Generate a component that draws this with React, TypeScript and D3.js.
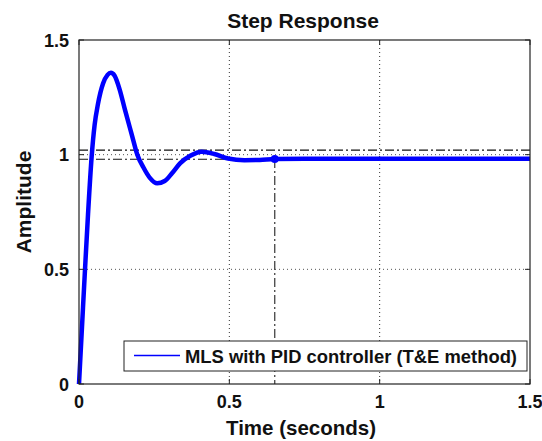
import React from "react";
import * as d3 from "d3";

const time = [0, 0.01, 0.02, 0.03, 0.042, 0.052, 0.063, 0.08, 0.095, 0.106, 0.118, 0.135, 0.153, 0.175, 0.194, 0.214, 0.235, 0.26, 0.285, 0.31, 0.336, 0.37, 0.408, 0.45, 0.496, 0.55, 0.601, 0.651, 0.75, 0.9, 1.1, 1.3, 1.5];
const amplitude = [0, 0.25, 0.5, 0.74, 0.99, 1.13, 1.22, 1.31, 1.348, 1.357, 1.345, 1.285, 1.195, 1.09, 1.0, 0.945, 0.9, 0.875, 0.885, 0.92, 0.962, 0.995, 1.013, 1.003, 0.983, 0.976, 0.977, 0.981, 0.982, 0.982, 0.982, 0.982, 0.982];
const xTicks = [0, 0.5, 1, 1.5];
const yTicks = [0, 0.5, 1, 1.5];
const xGrid = [0.5, 1];
const yGrid = [0.5, 1];
const settleBand = [1.02, 0.98];
const settlingTime = 0.651;
const settlingValue = 0.981;
const title = "Step Response";
const xLabel = "Time (seconds)";
const yLabel = "Amplitude";
const legendLabel = "MLS with PID controller (T&E method)";

const W = 542, H = 441;
const L = 79, R = 530, T = 40, B = 384;

export default function App() {
  const x = d3.scaleLinear().domain([0, 1.5]).range([L, R]);
  const y = d3.scaleLinear().domain([0, 1.5]).range([B, T]);
  const pts: [number, number][] = time.map((t, i) => [t, amplitude[i]]);
  const line = d3.line<[number, number]>().x(d => x(d[0])).y(d => y(d[1])).curve(d3.curveMonotoneX);
  const font = "'Liberation Sans', Arial, sans-serif";
  const tickLen = 5;
  return (
    <svg width={W} height={H} style={{ position: "absolute", left: 0, top: 0, background: "#fff" }} fontFamily={font}>
      <rect x={0} y={0} width={W} height={H} fill="#fff" />
      {xGrid.map(v => (
        <line key={"xg" + v} x1={x(v)} x2={x(v)} y1={T} y2={B} stroke="#333" strokeWidth={1} strokeDasharray="1,3" />
      ))}
      {yGrid.map(v => (
        <line key={"yg" + v} x1={L} x2={R} y1={y(v)} y2={y(v)} stroke="#555" strokeWidth={1} strokeDasharray="1,3" />
      ))}
      {settleBand.map(v => (
        <line key={"sb" + v} x1={L} x2={R} y1={y(v)} y2={y(v)} stroke="#111" strokeWidth={1.2} strokeDasharray="9,3,2,3" />
      ))}
      <line x1={x(settlingTime)} x2={x(settlingTime)} y1={y(settlingValue)} y2={B} stroke="#444" strokeWidth={1.3} strokeDasharray="9,3,2,3" />
      <path d={line(pts) || ""} fill="none" stroke="#0000ff" strokeWidth={4.5} strokeLinejoin="round" />
      <circle cx={x(settlingTime)} cy={y(settlingValue)} r={4} fill="#0000ff" />
      <rect x={L} y={T} width={R - L} height={B - T} fill="none" stroke="#222" strokeWidth={1.2} />
      {xTicks.map(v => (
        <g key={"xt" + v}>
          <line x1={x(v)} x2={x(v)} y1={B} y2={B - tickLen} stroke="#222" />
          <line x1={x(v)} x2={x(v)} y1={T} y2={T + tickLen} stroke="#222" />
          <text x={x(v)} y={B + 24} textAnchor="middle" fontSize={18} fontWeight="bold" fill="#111">{String(v)}</text>
        </g>
      ))}
      {yTicks.map(v => (
        <g key={"yt" + v}>
          <line x1={L} x2={L + tickLen} y1={y(v)} y2={y(v)} stroke="#222" />
          <line x1={R} x2={R - tickLen} y1={y(v)} y2={y(v)} stroke="#222" />
          <text x={L - 10} y={y(v) + 6.5} textAnchor="end" fontSize={18} fontWeight="bold" fill="#111">{String(v)}</text>
        </g>
      ))}
      <text x={303} y={28} textAnchor="middle" fontSize={21} fontWeight="bold" fill="#111">{title}</text>
      <text x={301} y={435} textAnchor="middle" fontSize={20.5} fontWeight="bold" fill="#111">{xLabel}</text>
      <text transform={`translate(31, 202) rotate(-90)`} textAnchor="middle" fontSize={21} fontWeight="bold" fill="#111">{yLabel}</text>
      <rect x={124} y={341} width={403} height={30} fill="#fff" stroke="#222" strokeWidth={1} />
      <line x1={134} x2={180} y1={355.5} y2={355.5} stroke="#0000ff" strokeWidth={1.6} />
      <text x={185} y={362.5} fontSize={18.6} fontWeight="bold" fill="#111" textLength={332} lengthAdjust="spacingAndGlyphs">{legendLabel}</text>
    </svg>
  );
}
